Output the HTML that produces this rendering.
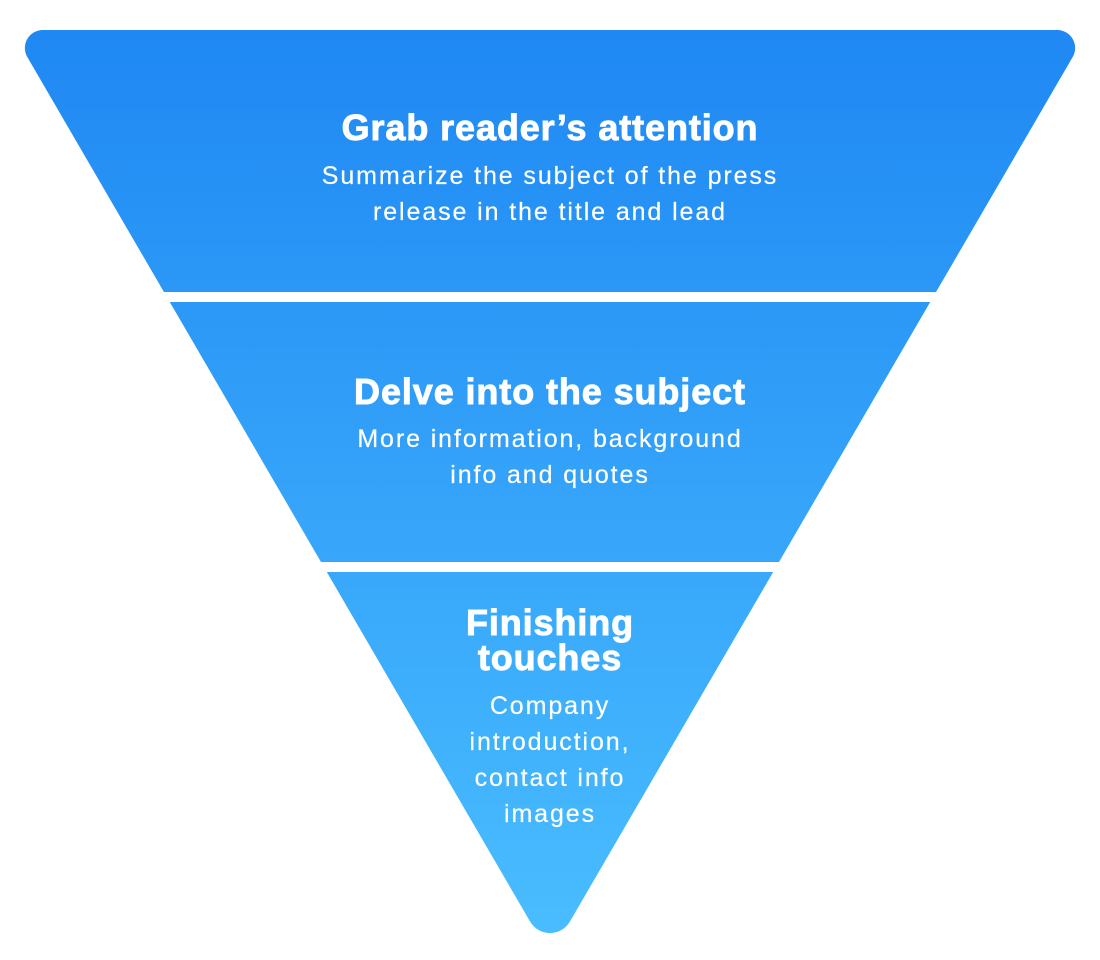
<!DOCTYPE html>
<html>
<head>
<meta charset="utf-8">
<style>
  html, body { margin: 0; padding: 0; background: #ffffff; }
  body { width: 1100px; height: 960px; overflow: hidden; }
  svg { display: block; }
  .t { font-family: "Liberation Sans", Arial, sans-serif; font-weight: bold; font-size: 36px; fill: #ffffff; stroke: #ffffff; stroke-width: 0.9px; letter-spacing: 0.9px; }
  .s { font-family: "Liberation Sans", Arial, sans-serif; font-weight: normal; font-size: 25px; fill: #ffffff; stroke: #ffffff; stroke-width: 0.2px; letter-spacing: 1.9px; }
</style>
</head>
<body>
<svg width="1100" height="960" viewBox="0 0 1100 960" xmlns="http://www.w3.org/2000/svg">
  <defs>
    <linearGradient id="g" gradientUnits="userSpaceOnUse" x1="0" y1="30" x2="0" y2="935">
      <stop offset="0" stop-color="#1f88f3"/>
      <stop offset="1" stop-color="#49bdff"/>
    </linearGradient>
  </defs>
  <path d="M 42.9 30 L 1057.1 30 A 18 18 0 0 1 1072.7 57.05 L 569.88 921.6 A 23 23 0 0 1 530.12 921.6 L 27.3 57.05 A 18 18 0 0 1 42.9 30 Z" fill="url(#g)"/>
  <rect x="0" y="292" width="1100" height="10" fill="#ffffff"/>
  <rect x="0" y="562" width="1100" height="10" fill="#ffffff"/>

  <text class="t" x="550" y="140" text-anchor="middle">Grab reader’s attention</text>
  <text class="s" x="550" y="184" text-anchor="middle">Summarize the subject of the press</text>
  <text class="s" x="550" y="220" text-anchor="middle">release in the title and lead</text>

  <text class="t" x="550" y="404" text-anchor="middle">Delve into the subject</text>
  <text class="s" x="550" y="447" text-anchor="middle">More information, background</text>
  <text class="s" x="550" y="483" text-anchor="middle">info and quotes</text>

  <text class="t" x="550" y="635" text-anchor="middle">Finishing</text>
  <text class="t" x="550" y="670" text-anchor="middle">touches</text>
  <text class="s" x="550" y="714" text-anchor="middle">Company</text>
  <text class="s" x="550" y="750" text-anchor="middle">introduction,</text>
  <text class="s" x="550" y="786" text-anchor="middle">contact info</text>
  <text class="s" x="550" y="822" text-anchor="middle">images</text>
</svg>
</body>
</html>
